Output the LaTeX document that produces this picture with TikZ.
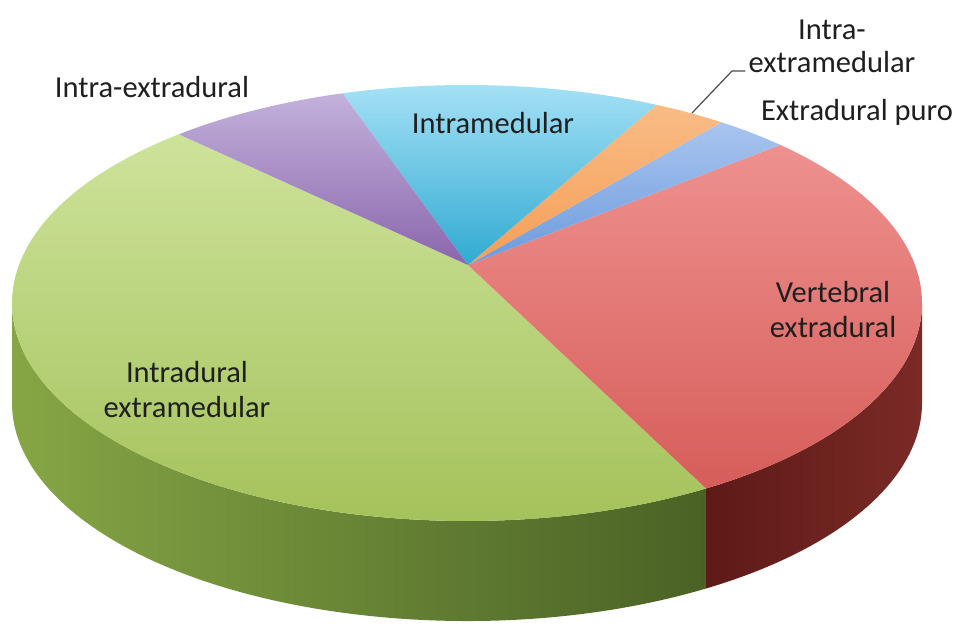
\documentclass[tikz,border=0pt]{standalone}
\usepackage{fontspec}
\setmainfont{Carlito}
\usetikzlibrary{calc}
\definecolor{greenTop}{HTML}{CDE39B}
\definecolor{greenBot}{HTML}{A2C057}
\definecolor{greenSideL}{HTML}{86A645}
\definecolor{greenSideR}{HTML}{4A6225}
\definecolor{redTop}{HTML}{EE918F}
\definecolor{redBot}{HTML}{D65D59}
\definecolor{redSideL}{HTML}{5E1A17}
\definecolor{redSideR}{HTML}{7A2A26}
\definecolor{purpleTop}{HTML}{C3B1DB}
\definecolor{purpleBot}{HTML}{8A66AC}
\definecolor{cyanTop}{HTML}{A8E2F6}
\definecolor{cyanBot}{HTML}{30AAD2}
\definecolor{orangeTop}{HTML}{F9BC85}
\definecolor{orangeBot}{HTML}{F59E57}
\definecolor{blueTop}{HTML}{A9C5EF}
\definecolor{blueBot}{HTML}{6C9ADC}
\definecolor{ink}{HTML}{1F1F1F}
\begin{document}
\begin{tikzpicture}[x=1pt,y=1pt,line join=round,line cap=round,font=\fontsize{30.5}{35}\selectfont]
	\tikzset{declare function={
			cx=467;cy=324;a=455;b=218;h=100;
		},
		lbl/.style={text=ink,align=center,inner sep=0pt}}
	\useasboundingbox (0,0) rectangle (963,627);
	\coordinate (O) at (cx,cy);
	\coordinate (P) at (468,362);
	% side walls
	\shade[left color=greenSideL,right color=greenSideR] ($(O)+(180:a and b)$) arc[start angle=180,end angle=301.7,x radius=a,y radius=b] -- ++(0,{-h}) arc[start angle=301.7,end angle=180,x radius=a,y radius=b] -- cycle;
	\shade[left color=redSideL,right color=redSideR] ($(O)+(301.7:a and b)$) arc[start angle=301.7,end angle=360,x radius=a,y radius=b] -- ++(0,{-h}) arc[start angle=360,end angle=301.7,x radius=a,y radius=b] -- cycle;
	% top slices
	\foreach \s/\e/\ct/\cb in {129.3/301.7/greenTop/greenBot,-58.3/46.5/redTop/redBot,46.5/56/blueTop/blueBot,56/65.4/orangeTop/orangeBot,65.4/105.9/cyanTop/cyanBot,105.9/129.3/purpleTop/purpleBot}{
		\shade[top color=\ct,bottom color=\cb] (P) -- ($(O)+(\s:a and b)$) arc[start angle=\s,end angle=\e,x radius=a,y radius=b] -- cycle;
	}
	% labels
	\node[lbl] (intraext) at (152,540) {Intra-extradural};
	\node[lbl] (intramed) at (493,504) {Intramedular};
	\node[lbl,font=\fontsize{30.5}{33}\selectfont] (intraextramed) at (832,581) {Intra-\\extramedular};
	\node[lbl] (extrapuro) at (857,515) {Extradural puro};
	\node[lbl] (vertebral) at (833,317) {Vertebral\\extradural};
	\node[lbl] (intradural) at (187,237) {Intradural\\extramedular};
	% leader
	\coordinate (tip) at (692,514);
	\coordinate (hook) at (745,556);
	\draw[line width=1.2pt,ink!80] (tip) -- (732,556) -- (hook);
\end{tikzpicture}
\end{document}
